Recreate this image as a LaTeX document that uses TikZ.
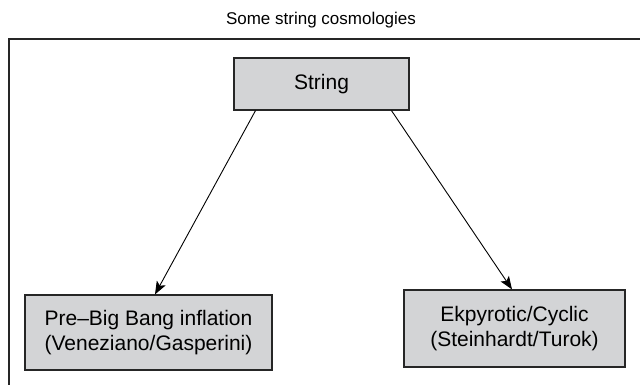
\documentclass[tikz,border=0pt]{standalone}
\usepackage{fontspec}
\setmainfont{Liberation Sans}
\usetikzlibrary{arrows.meta}
\definecolor{boxgray}{RGB}{211,212,214}
\tikzset{
  cosmo/.style={draw=black!85, line width=1.2pt, fill=boxgray, align=center, inner sep=0pt,
    font=\fontsize{21}{25}\selectfont},
  link/.style={black, line width=0.9pt, -{Stealth[length=13pt, width=10pt, inset=3pt]}}
}
\begin{document}
\begin{tikzpicture}[x=1pt, y=1pt]
\useasboundingbox (0,0) rectangle (640,384);
% outer frame, clipped by the page
\draw[black!85, line width=1.2pt] (9,-20) -- (9,345) -- (660,345);
\node (title) at (321,364) {\fontsize{17}{20}\selectfont Some string cosmologies};
\node[cosmo, minimum width=175pt, minimum height=52pt] (str) at (321.5,300) {String};
\node[cosmo, minimum width=247pt, minimum height=75pt] (pre) at (148.5,51.5)
  {Pre--Big Bang inflation\\(Veneziano/Gasperini)};
\node[cosmo, minimum width=221pt, minimum height=77pt] (ekp) at (514.5,55.5)
  {Ekpyrotic/Cyclic\\(Steinhardt/Turok)};
\draw[link] ([xshift=-66pt]str.south) -- ([xshift=6.5pt]pre.north);
\draw[link] ([xshift=70pt]str.south) -- ([xshift=-2.5pt]ekp.north);
\end{tikzpicture}
\end{document}
